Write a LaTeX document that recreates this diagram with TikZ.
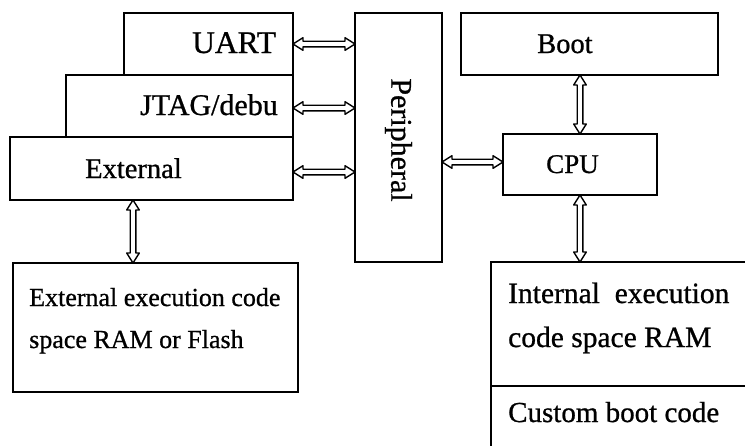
\documentclass[tikz,border=0pt]{standalone}
\usepackage{fontspec}
\setmainfont{Liberation Serif}[FakeBold=0.8]
\usetikzlibrary{calc}
% outlined double-headed block arrow between two points
\newcommand\hdl{10pt}% head length
\newcommand\hhw{6.3pt}% head half width
\newcommand\shw{2.8pt}% shaft half width
\begin{document}
\begin{tikzpicture}[x=1pt,y=-1pt,
  box/.style={draw, line width=1.7pt, inner sep=0pt, outer sep=0pt, rectangle},
  lbl/.style={inner sep=0pt, anchor=base west},
  fs/.style={font=\fontsize{#1}{#1}\selectfont},
  bus/.style={line width=1.4pt, line join=round, to path={
    -- ($(\tikztostart)!\hdl!(\tikztotarget)!\hhw!90:(\tikztotarget)$)
    -- ($(\tikztostart)!\hdl!(\tikztotarget)!\shw!90:(\tikztotarget)$)
    -- ($(\tikztotarget)!\hdl!(\tikztostart)!\shw!-90:(\tikztostart)$)
    -- ($(\tikztotarget)!\hdl!(\tikztostart)!\hhw!-90:(\tikztostart)$)
    -- (\tikztotarget)
    -- ($(\tikztotarget)!\hdl!(\tikztostart)!\hhw!90:(\tikztostart)$)
    -- ($(\tikztotarget)!\hdl!(\tikztostart)!\shw!90:(\tikztostart)$)
    -- ($(\tikztostart)!\hdl!(\tikztotarget)!\shw!-90:(\tikztotarget)$)
    -- ($(\tikztostart)!\hdl!(\tikztotarget)!\hhw!-90:(\tikztotarget)$)
    -- cycle}}]
\useasboundingbox (0,0) rectangle (745,445);
\clip (0,0) rectangle (745,445);

% stacked interface blocks on the left
\node[box, minimum width=169pt, minimum height=62pt] (uart) at (208.5,44) {};
\node[box, minimum width=227pt, minimum height=62pt] (jtag) at (179.5,106) {};
\node[box, minimum width=283pt, minimum height=63pt] (ext) at (151.5,168.5) {};

% peripheral bus
\node[box, minimum width=87pt, minimum height=249pt] (periph) at (398.5,137.5) {};
\node[inner sep=0pt, rotate=-90, fs=30] (periphtxt) at (398.5,140) {Peripheral};

% boot and cpu
\node[box, minimum width=257pt, minimum height=62pt] (boot) at (589.5,44) {};
\node[box, minimum width=154pt, minimum height=61pt] (cpu) at (580,164.5) {};

% memories
\node[box, minimum width=285pt, minimum height=129pt] (extmem) at (155.5,327.5) {};
\node[box, minimum width=309pt, minimum height=238pt] (intmem) at (645.5,381) {};
\coordinate (divl) at (491,386);
\draw[line width=1.7pt] (divl) -- (divl -| intmem.east);

% labels
\node[lbl, fs=31.5] (uarttxt) at (192,53) {UART};
\node[lbl, fs=30] (jtagtxt) at (140,115) {JTAG/debu};
\node[lbl, fs=28.5] (exttxt) at (85,178) {External};
\node[lbl, fs=28.5] (boottxt) at (537,53) {Boot};
\node[lbl, fs=27] (cputxt) at (546,173) {CPU};
\node[lbl, fs=26] (extmemA) at (29,306) {External execution code};
\node[lbl, fs=26] (extmemB) at (29,348) {space RAM or Flash};
\node[lbl, fs=29.5] (intmemA) at (508,303) {Internal\ \ execution};
\node[lbl, fs=29.5] (intmemB) at (508,347) {code space RAM};
\node[lbl, fs=29] (bootcode) at (508,422) {Custom boot code};

% bus end points
\coordinate (uartE) at (uart.east);
\coordinate (jtagE) at ([yshift=-2pt]jtag.east);
\coordinate (extE) at ([yshift=-3.5pt]ext.east);
\coordinate (cpuW) at ([yshift=2.5pt]cpu.west);
\coordinate (uartP) at (uartE -| periph.west);
\coordinate (jtagP) at (jtagE -| periph.west);
\coordinate (extP) at (extE -| periph.west);
\coordinate (cpuP) at (periph.east |- cpuW);
\coordinate (cpuB) at (cpu.north |- boot.south);
\coordinate (cpuM) at (cpu.south |- intmem.north);
\coordinate (extdown) at (133,200);
\coordinate (extM) at (extdown |- extmem.north);

% bus connections
\draw[bus] (uartE) to (uartP);
\draw[bus] (jtagE) to (jtagP);
\draw[bus] (extE) to (extP);
\draw[bus] (cpuP) to (cpuW);
\draw[bus] (cpu.north) to (cpuB);
\draw[bus] (cpu.south) to (cpuM);
\draw[bus] (extdown) to (extM);
\end{tikzpicture}
\end{document}
